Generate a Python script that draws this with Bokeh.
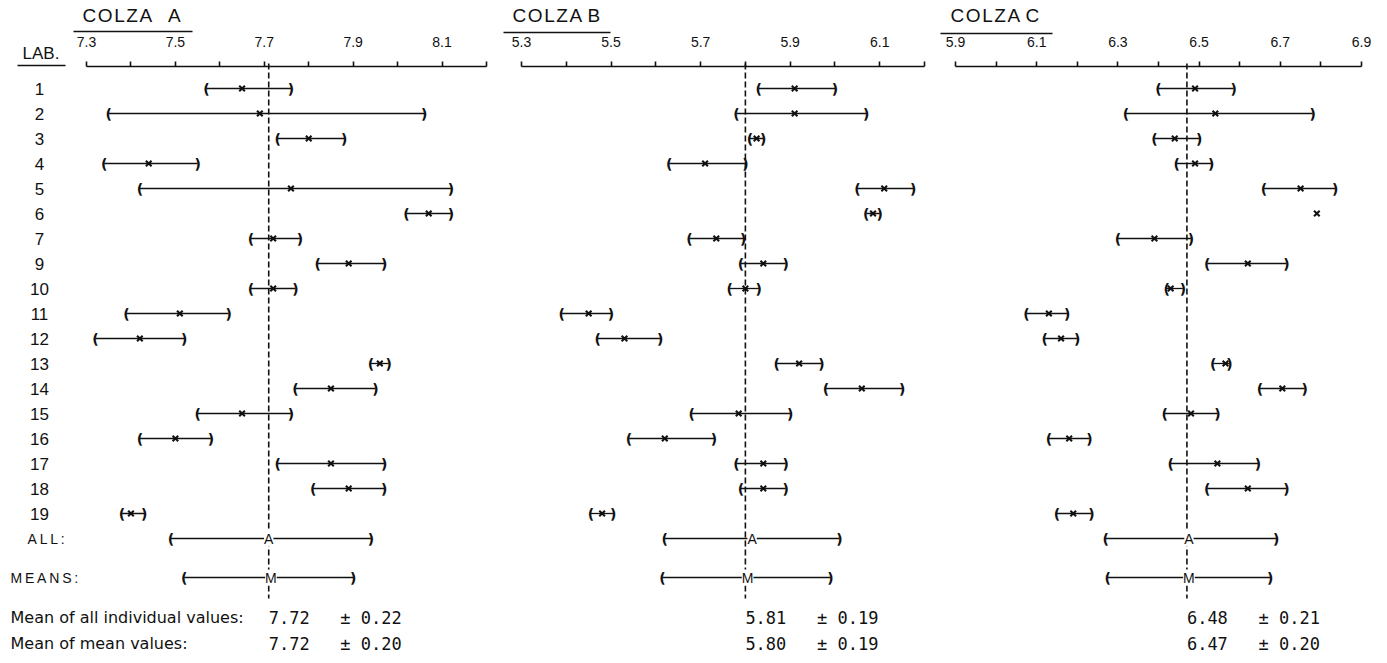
import numpy as np
from bokeh.plotting import figure
from bokeh.models import Range1d, LinearAxis, FixedTicker, NumeralTickFormatter, ColumnDataSource
from bokeh.core.properties import value
from bokeh.embed import file_html
from bokeh.resources import INLINE

# ---------------- data ----------------
labs = ["1", "2", "3", "4", "5", "6", "7", "9", "10", "11", "12", "13", "14", "15", "16", "17", "18", "19"]

a_low  = [7.57, 7.35, 7.73, 7.34, 7.42, 8.02, 7.67, 7.82, 7.67, 7.39, 7.32, 7.94, 7.77, 7.55, 7.42, 7.73, 7.81, 7.38]
a_mean = [7.65, 7.69, 7.80, 7.44, 7.76, 8.07, 7.72, 7.89, 7.72, 7.51, 7.42, 7.96, 7.85, 7.65, 7.50, 7.85, 7.89, 7.40]
a_high = [7.76, 8.06, 7.88, 7.55, 8.12, 8.12, 7.78, 7.97, 7.77, 7.62, 7.52, 7.98, 7.95, 7.76, 7.58, 7.97, 7.97, 7.43]

b_low  = [5.83, 5.78, 5.81, 5.63, 6.05, 6.07, 5.675, 5.79, 5.765, 5.39, 5.47, 5.87, 5.98, 5.68, 5.54, 5.78, 5.79, 5.455]
b_mean = [5.91, 5.91, 5.825, 5.71, 6.11, 6.085, 5.735, 5.84, 5.80, 5.45, 5.53, 5.92, 6.06, 5.785, 5.62, 5.84, 5.84, 5.48]
b_high = [6.00, 6.07, 5.84, 5.80, 6.175, 6.10, 5.795, 5.89, 5.83, 5.50, 5.61, 5.97, 6.15, 5.90, 5.73, 5.89, 5.89, 5.505]

c_low  = [6.40, 6.32, 6.39, 6.445, 6.66, np.nan, 6.30, 6.52, 6.42, 6.075, 6.12, 6.535, 6.65, 6.415, 6.13, 6.43, 6.52, 6.15]
c_mean = [6.49, 6.54, 6.44, 6.49, 6.75, 6.79, 6.39, 6.62, 6.43, 6.13, 6.16, 6.565, 6.705, 6.48, 6.18, 6.545, 6.62, 6.19]
c_high = [6.585, 6.78, 6.50, 6.53, 6.835, np.nan, 6.48, 6.715, 6.46, 6.175, 6.20, 6.575, 6.76, 6.545, 6.23, 6.645, 6.715, 6.235]

# summary rows: ALL (all individual values) and MEANS (mean of lab means)
all_low  = [7.49, 5.62, 6.27]
all_mid  = [7.71, 5.815, 6.475]
all_high = [7.94, 6.01, 6.69]
mm_low   = [7.52, 5.615, 6.275]
mm_mid   = [7.715, 5.805, 6.475]
mm_high  = [7.90, 5.99, 6.675]
grand_line = [7.71, 5.80, 6.47]

stat_all_mean = [7.72, 5.81, 6.48]
stat_all_sd   = [0.22, 0.19, 0.21]
stat_mm_mean  = [7.72, 5.80, 6.47]
stat_mm_sd    = [0.20, 0.19, 0.20]

panel_names = ["A", "B", "C"]
TS = "\u2009"
HS = "\u200a"
NB = "\u00a0"
panel_titles = [HS.join("COLZA") + NB * 3 + "A", HS.join("COLZA") + NB + "B", HS.join("COLZA") + NB + "C"]
axis_lo = [7.3, 5.3, 5.9]
axis_hi = [8.2, 6.2, 6.9]
major_ticks = [[7.3, 7.5, 7.7, 7.9, 8.1], [5.3, 5.5, 5.7, 5.9, 6.1], [5.9, 6.1, 6.3, 6.5, 6.7, 6.9]]
minor_ticks = [[7.4, 7.6, 7.8, 8.0, 8.2], [5.4, 5.6, 5.8, 6.0, 6.2], [6.0, 6.2, 6.4, 6.6, 6.8]]

# ---------------- layout (screen positions) ----------------
W, H = 1379, 655
X0, X1 = 0, W
Y0, Y1 = 0, H
axis_px = [(86, 486), (521, 924), (955, 1361)]
title_x = [82, 512, 950]
underline = [(73, 192, 31), (503, 610, 32), (940, 1052, 33)]
AXIS_Y = 66
ROW_Y = [88 + 25 * i for i in range(len(labs))]
ALL_Y, MEANS_Y = 538, 577
STAT_Y = [617, 643]

SANS = value("Liberation Sans")
DEJA = value("DejaVu Sans")
MONO = value("DejaVu Sans Mono")
INK = "#111111"

p = figure(width=W, height=H, x_range=Range1d(X0, X1), y_range=Range1d(Y1, Y0),
           x_axis_location=None, y_axis_location=None, toolbar_location=None,
           output_backend="svg", min_border=0, outline_line_color=None)
p.background_fill_color = "white"
p.border_fill_color = "white"
p.grid.visible = False

lows = [a_low, b_low, c_low]
means = [a_mean, b_mean, c_mean]
highs = [a_high, b_high, c_high]

paren_kw = dict(text_align="center", text_baseline="middle", text_font=DEJA,
                text_font_size="14px", text_font_style="bold", text_color=INK)

for k, name in enumerate(panel_names):
    v0, v1 = axis_lo[k], axis_hi[k]
    px0, px1 = axis_px[k]
    scale = (px1 - px0) / (v1 - v0)
    p.extra_x_ranges[name] = Range1d(v0 - (px0 - X0) / scale, v0 + (X1 - px0) / scale)

    ax = LinearAxis(x_range_name=name, fixed_location=AXIS_Y, bounds=(v0, v1),
                    ticker=FixedTicker(ticks=major_ticks[k], minor_ticks=minor_ticks[k]),
                    formatter=NumeralTickFormatter(format="0.0"),
                    major_tick_in=0, major_tick_out=5, minor_tick_in=0, minor_tick_out=5,
                    axis_line_width=1.6, major_tick_line_width=1.6, minor_tick_line_width=1.6,
                    axis_line_color=INK, major_tick_line_color=INK, minor_tick_line_color=INK,
                    major_label_standoff=15, major_label_text_font_size="14px",
                    major_label_text_font="Liberation Sans", major_label_text_color=INK)
    p.add_layout(ax, "above")

    src = ColumnDataSource(dict(y=ROW_Y, lo=np.array(lows[k], dtype=float),
                                mid=np.array(means[k], dtype=float),
                                hi=np.array(highs[k], dtype=float),
                                lp=["("] * len(labs), rp=[")"] * len(labs)))
    p.segment(x0="lo", y0="y", x1="hi", y1="y", source=src, x_range_name=name,
              line_color=INK, line_width=1.3)
    p.text(x="lo", y="y", text="lp", source=src, x_range_name=name, **paren_kw)
    p.text(x="hi", y="y", text="rp", source=src, x_range_name=name, **paren_kw)
    p.scatter(x="mid", y="y", source=src, x_range_name=name, marker="x", size=8,
              line_color=INK, line_width=2)

    # summary rows
    ssrc = ColumnDataSource(dict(y=[ALL_Y, MEANS_Y], lo=[all_low[k], mm_low[k]],
                                 mid=[all_mid[k], mm_mid[k]], hi=[all_high[k], mm_high[k]],
                                 lab=["A", "M"], lp=["(", "("], rp=[")", ")"]))
    p.segment(x0="lo", y0="y", x1="hi", y1="y", source=ssrc, x_range_name=name,
              line_color=INK, line_width=1.3)
    p.text(x="lo", y="y", text="lp", source=ssrc, x_range_name=name, **paren_kw)
    p.text(x="hi", y="y", text="rp", source=ssrc, x_range_name=name, **paren_kw)

    # dashed grand-mean line
    p.segment(x0=[grand_line[k]], y0=[AXIS_Y - 3], x1=[grand_line[k]], y1=[598],
              x_range_name=name, line_color=INK, line_width=1.6, line_dash="6 3")

    p.text(x="mid", y="y", text="lab", source=ssrc, x_range_name=name, text_align="center",
           text_baseline="middle", text_font=SANS, text_font_size="14px", text_color=INK,
           background_fill_color="white")

    # stats text
    stats = [f"{stat_all_mean[k]:.2f}" + NB * 3 + "\u00b1" + NB + f"{stat_all_sd[k]:.2f}",
             f"{stat_mm_mean[k]:.2f}" + NB * 3 + "\u00b1" + NB + f"{stat_mm_sd[k]:.2f}"]
    p.text(x=[grand_line[k]] * 2, y=STAT_Y, text=stats, x_range_name=name, text_align="left",
           text_baseline="middle", text_font=MONO, text_font_size="17px", text_color=INK)

    # panel title with underline
    p.text(x=[title_x[k]], y=[15], text=[panel_titles[k]], text_align="left",
           text_baseline="middle", text_font=SANS, text_font_size="19px", text_color=INK)
    u0, u1, uy = underline[k]
    p.segment(x0=[u0], y0=[uy], x1=[u1], y1=[uy], line_color=INK, line_width=1.4)

# left-hand labels
p.text(x=[22], y=[53], text=["LAB."], text_align="left", text_baseline="middle",
       text_font=SANS, text_font_size="17px", text_color=INK)
p.segment(x0=[17], y0=[65], x1=[65], y1=[65], line_color=INK, line_width=1.4)
p.text(x=[39] * len(labs), y=ROW_Y, text=labs, text_align="center", text_baseline="middle",
       text_font=SANS, text_font_size="17px", text_color=INK)
p.text(x=[27, 10], y=[ALL_Y, MEANS_Y], text=[TS.join("ALL:"), TS.join("MEANS:")],
       text_align="left", text_baseline="middle", text_font=SANS, text_font_size="14px",
       text_color=INK)
p.text(x=[10, 10], y=STAT_Y, text=["Mean of all individual values:", "Mean of mean values:"],
       text_align="left", text_baseline="middle", text_font=DEJA, text_font_size="16px",
       text_color=INK)

open("out.html", "w").write(file_html(p, INLINE))
